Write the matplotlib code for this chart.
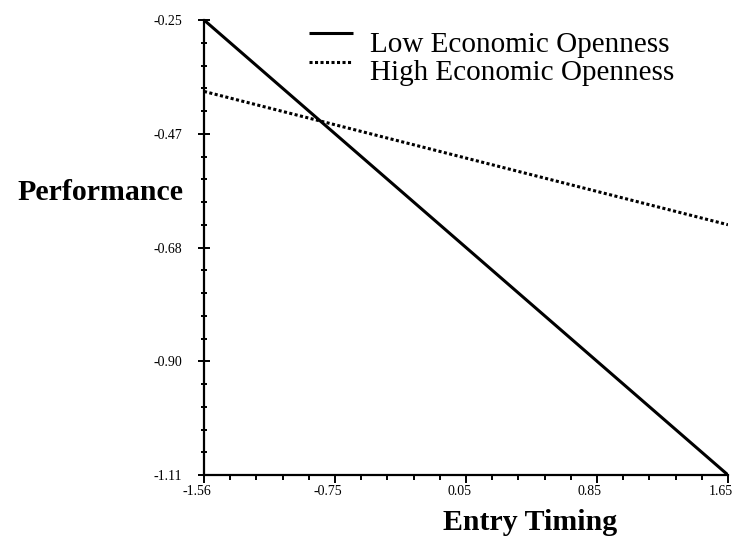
import numpy as np
import matplotlib.pyplot as plt
import matplotlib.transforms as mtrans
from matplotlib.lines import Line2D
from matplotlib.ticker import FixedLocator

# data
timing = [-1.56, 1.65]
low_open = [-0.25, -1.11]
high_open = [-0.385, -0.637]
series_names = ['Low Economic Openness', 'High Economic Openness']

x_ticks = np.linspace(-1.56, 1.65, 5)
x_labels = ['-1.56', '-0.75', '0.05', '0.85', '1.65']
y_ticks = np.linspace(-0.25, -1.11, 5)
y_labels = ['-0.25', '-0.47', '-0.68', '-0.90', '-1.11']

plt.rcParams['font.family'] = ['Liberation Serif', 'DejaVu Serif']

fig = plt.figure(figsize=(7.38, 5.39), dpi=100)
ax = fig.add_axes([204/738, 1-475/539, 524/738, 455/539])

solid_style = dict(color='black', lw=2.2, solid_capstyle='butt')
dot_style = dict(color='black', lw=2.2, linestyle=(0, (1, 0.8)))

ax.plot(timing, low_open, **solid_style)
ax.plot(timing, high_open, **dot_style)

ax.set_xlim(x_ticks[0], x_ticks[-1])
ax.set_ylim(y_ticks[-1], y_ticks[0])

ax.set_xticks(x_ticks)
ax.set_xticklabels(x_labels)
ax.set_yticks(y_ticks)
ax.set_yticklabels(y_labels)

# 4 minor ticks between majors
dx = (x_ticks[1] - x_ticks[0]) / 5
dy = (y_ticks[0] - y_ticks[1]) / 5
ax.xaxis.set_minor_locator(FixedLocator(np.arange(x_ticks[0], x_ticks[-1], dx)))
ax.yaxis.set_minor_locator(FixedLocator(np.arange(y_ticks[-1], y_ticks[0], dy)))

ax.spines['top'].set_visible(False)
ax.spines['right'].set_visible(False)
ax.spines['left'].set_linewidth(1.6)
ax.spines['bottom'].set_linewidth(1.6)

ax.tick_params(axis='y', which='major', direction='inout', length=8, width=1.4, labelsize=10, pad=12)
ax.tick_params(axis='y', which='minor', direction='inout', length=5, width=1.4)
ax.tick_params(axis='x', which='major', direction='out', length=6, width=1.4, labelsize=10, pad=1.5)
ax.tick_params(axis='x', which='minor', direction='out', length=3.5, width=1.4)

# x labels sit a bit left of their ticks in the original
shift = mtrans.ScaledTranslation(-7/100, 0, fig.dpi_scale_trans)
for lab in ax.get_xticklabels():
    lab.set_transform(lab.get_transform() + shift)

fig.text(100/738, 1-192/539, 'Performance', fontsize=21.5, fontweight='bold', ha='center', va='center')
fig.text(530/738, 1-523/539, 'Entry Timing', fontsize=21.5, fontweight='bold', ha='center', va='center')

# legend drawn by hand: the sample lines sit at the cap height of the text
for name, style, ly, by in [(series_names[0], solid_style, 33, 52),
                            (series_names[1], dot_style, 62, 80)]:
    fig.add_artist(Line2D([309/738, 353/738], [1-ly/539, 1-ly/539],
                          transform=fig.transFigure, **style))
    fig.text(370/738, 1-by/539, name, fontsize=21, ha='left', va='baseline')

fig.savefig('out.png', dpi=100)
